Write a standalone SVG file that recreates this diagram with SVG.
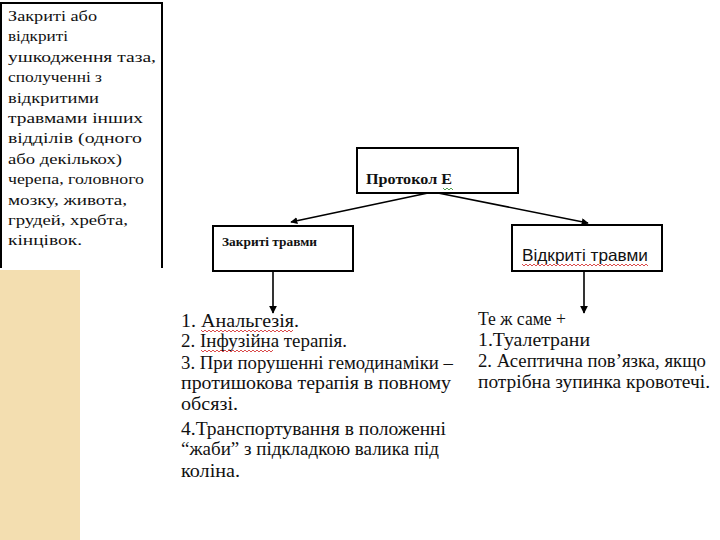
<svg xmlns="http://www.w3.org/2000/svg" width="720" height="540" viewBox="0 0 720 540">
<style>
.box{fill:#fff;stroke:#000;stroke-width:2}
.conn{stroke:#000;stroke-width:1.6;fill:none}
.sq{fill:none;stroke:#d02020;stroke-width:0.8}
.sqg{fill:none;stroke:#2a8a2a;stroke-width:0.8}
</style>
<defs>
<marker id="ah" viewBox="0 0 10 10" refX="9" refY="5" markerWidth="7" markerHeight="7" orient="auto" markerUnits="userSpaceOnUse">
<path d="M0,0 L10,5 L0,10 z" fill="#000"/>
</marker>
<marker id="ahs" viewBox="0 0 10 10" refX="9" refY="5" markerWidth="8" markerHeight="8" orient="auto" markerUnits="userSpaceOnUse">
<path d="M0,0 L10,5 L0,10 z" fill="#000"/>
</marker>
</defs>
<rect width="720" height="540" fill="#fff"/>
<rect x="0" y="270" width="80" height="270" fill="#F3DEB0"/>
<g id="side-note" font-family="Liberation Serif, serif" font-size="15" fill="#111">
<path d="M1,268 L1,3 L162,3 L162,268" fill="#fff" stroke="#000" stroke-width="2"/>
<text x="8" y="21" textLength="89" lengthAdjust="spacingAndGlyphs">Закриті або</text>
<text x="8" y="41.4" textLength="60" lengthAdjust="spacingAndGlyphs">відкриті</text>
<text x="8" y="61.8" textLength="148" lengthAdjust="spacingAndGlyphs">ушкодження таза,</text>
<text x="8" y="82.2" textLength="94" lengthAdjust="spacingAndGlyphs">сполученні з</text>
<text x="8" y="102.6" textLength="91" lengthAdjust="spacingAndGlyphs">відкритими</text>
<text x="8" y="123" textLength="135" lengthAdjust="spacingAndGlyphs">травмами інших</text>
<text x="8" y="143.4" textLength="134" lengthAdjust="spacingAndGlyphs">відділів (одного</text>
<text x="8" y="163.8" textLength="114" lengthAdjust="spacingAndGlyphs">або декількох)</text>
<text x="8" y="184.2" textLength="136" lengthAdjust="spacingAndGlyphs">черепа, головного</text>
<text x="8" y="204.6" textLength="119" lengthAdjust="spacingAndGlyphs">мозку, живота,</text>
<text x="8" y="225" textLength="120" lengthAdjust="spacingAndGlyphs">грудей, хребта,</text>
<text x="8" y="245.4" textLength="74" lengthAdjust="spacingAndGlyphs">кінцівок.</text>
</g>
<g id="protocol">
<rect class="box" x="357" y="148" width="161" height="45"/>
<text x="366" y="184" font-family="Liberation Serif, serif" font-size="15" font-weight="bold" fill="#111" textLength="86" lengthAdjust="spacingAndGlyphs">Протокол Е</text>
<path class="sqg" d="M443,188 l2,2 l2,-2 l2,2 l2,-2 l2,2"/>
</g>
<g id="closed">
<rect class="box" x="213" y="226" width="140" height="45"/>
<text x="222" y="246" font-family="Liberation Serif, serif" font-size="12.5" font-weight="bold" fill="#111" textLength="95" lengthAdjust="spacingAndGlyphs">Закриті травми</text>
</g>
<g id="open">
<rect class="box" x="512" y="225" width="150" height="46"/>
<text x="522" y="261" font-family="Liberation Sans, sans-serif" font-size="16.5" fill="#111" textLength="126" lengthAdjust="spacingAndGlyphs">Відкриті травми</text>
<path class="sq" d="M522,264 l2,2 l2,-2 l2,2 l2,-2 l2,2 l2,-2 l2,2 l2,-2 l2,2 l2,-2 l2,2 l2,-2 l2,2 l2,-2 l2,2 l2,-2 l2,2 l2,-2 l2,2 l2,-2 l2,2 l2,-2 l2,2 l2,-2 l2,2 l2,-2 l2,2 l2,-2 l2,2 l2,-2 l2,2 l2,-2 l2,2 l2,-2 l2,2 l2,-2 l2,2 l2,-2 l2,2 l2,-2 l2,2 l2,-2 l2,2 l2,-2 l2,2 l2,-2 l2,2 l2,-2 l2,2 l2,-2 l2,2 l2,-2 l2,2 l2,-2 l2,2 l2,-2 l2,2 l2,-2 l2,2 l2,-2 l2,2 l2,-2 l2,2"/>
</g>
<g id="connectors">
<line class="conn" x1="428" y1="193" x2="291" y2="222" marker-end="url(#ah)"/>
<line class="conn" x1="438" y1="193" x2="588" y2="223" marker-end="url(#ah)"/>
<line class="conn" x1="273" y1="271" x2="273" y2="313" marker-end="url(#ahs)"/>
<line class="conn" x1="584" y1="271" x2="584" y2="313" marker-end="url(#ahs)"/>
</g>
<g id="closed-actions" font-family="Liberation Serif, serif" font-size="18" fill="#111">
<text x="181" y="327" textLength="118" lengthAdjust="spacingAndGlyphs">1. Анальгезія.</text>
<path class="sq" d="M201,330 l2,2 l2,-2 l2,2 l2,-2 l2,2 l2,-2 l2,2 l2,-2 l2,2 l2,-2 l2,2 l2,-2 l2,2 l2,-2 l2,2 l2,-2 l2,2 l2,-2 l2,2 l2,-2 l2,2 l2,-2 l2,2 l2,-2 l2,2 l2,-2 l2,2 l2,-2 l2,2 l2,-2 l2,2 l2,-2 l2,2 l2,-2 l2,2 l2,-2 l2,2 l2,-2 l2,2 l2,-2 l2,2 l2,-2 l2,2 l2,-2 l2,2 l2,-2"/>
<text x="181" y="347" textLength="166" lengthAdjust="spacingAndGlyphs">2. Інфузійна терапія.</text>
<path class="sq" d="M201,350 l2,2 l2,-2 l2,2 l2,-2 l2,2 l2,-2 l2,2 l2,-2 l2,2 l2,-2 l2,2 l2,-2 l2,2 l2,-2 l2,2 l2,-2 l2,2 l2,-2 l2,2 l2,-2 l2,2 l2,-2 l2,2 l2,-2 l2,2 l2,-2 l2,2 l2,-2 l2,2 l2,-2 l2,2 l2,-2 l2,2 l2,-2 l2,2 l2,-2"/>
<text x="181" y="369" textLength="272" lengthAdjust="spacingAndGlyphs">3. При порушенні гемодинаміки –</text>
<text x="181" y="389" textLength="270" lengthAdjust="spacingAndGlyphs">протишокова терапія в повному</text>
<text x="181" y="410" textLength="57" lengthAdjust="spacingAndGlyphs">обсязі.</text>
<text x="181" y="435" textLength="265" lengthAdjust="spacingAndGlyphs">4.Транспортування в положенні</text>
<text x="181" y="455" textLength="258" lengthAdjust="spacingAndGlyphs">“жаби” з підкладкою валика під</text>
<text x="181" y="477" textLength="59" lengthAdjust="spacingAndGlyphs">коліна.</text>
</g>
<g id="open-actions" font-family="Liberation Serif, serif" font-size="18" fill="#111">
<text x="478" y="325" textLength="88" lengthAdjust="spacingAndGlyphs">Те ж саме +</text>
<text x="478" y="346" textLength="112" lengthAdjust="spacingAndGlyphs">1.Туалетрани</text>
<text x="478" y="367" textLength="228" lengthAdjust="spacingAndGlyphs">2. Асептична пов’язка, якщо</text>
<text x="478" y="388" textLength="232" lengthAdjust="spacingAndGlyphs">потрібна зупинка кровотечі.</text>
</g>
</svg>
